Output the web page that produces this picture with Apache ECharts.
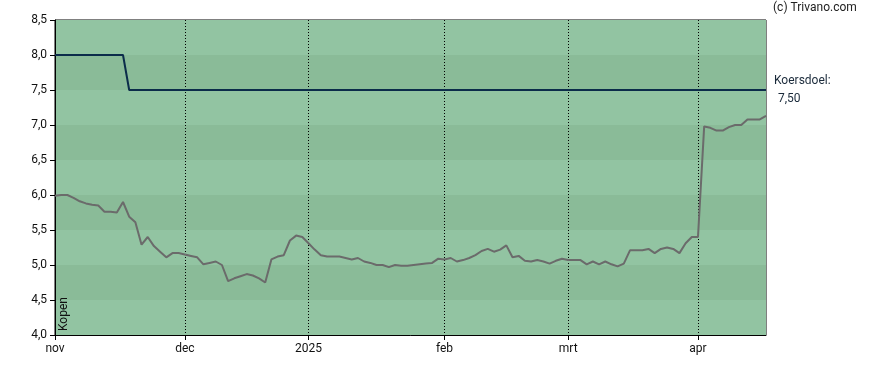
<!DOCTYPE html>
<html>
<head>
<meta charset="utf-8">
<script src="https://cdn.jsdelivr.net/npm/echarts@6/dist/echarts.min.js"></script>
<style>
html,body{margin:0;padding:0;background:#fff;}
#c{width:888px;height:370px;}
</style>
</head>
<body>
<div id="c"></div>
<script>
// Trading days (categories)
const dates = [
 "2024-11-01","2024-11-04","2024-11-05","2024-11-06","2024-11-07","2024-11-08","2024-11-11","2024-11-12","2024-11-13","2024-11-14","2024-11-15","2024-11-18","2024-11-19","2024-11-20","2024-11-21","2024-11-22","2024-11-25","2024-11-26","2024-11-27","2024-11-28","2024-11-29",
 "2024-12-02","2024-12-03","2024-12-04","2024-12-05","2024-12-06","2024-12-09","2024-12-10","2024-12-11","2024-12-12","2024-12-13","2024-12-16","2024-12-17","2024-12-18","2024-12-19","2024-12-20","2024-12-23","2024-12-24","2024-12-27","2024-12-30","2024-12-31",
 "2025-01-02","2025-01-03","2025-01-06","2025-01-07","2025-01-08","2025-01-09","2025-01-10","2025-01-13","2025-01-14","2025-01-15","2025-01-16","2025-01-17","2025-01-20","2025-01-21","2025-01-22","2025-01-23","2025-01-24","2025-01-27","2025-01-28","2025-01-29","2025-01-30","2025-01-31",
 "2025-02-03","2025-02-04","2025-02-05","2025-02-06","2025-02-07","2025-02-10","2025-02-11","2025-02-12","2025-02-13","2025-02-14","2025-02-17","2025-02-18","2025-02-19","2025-02-20","2025-02-21","2025-02-24","2025-02-25","2025-02-26","2025-02-27","2025-02-28",
 "2025-03-03","2025-03-04","2025-03-05","2025-03-06","2025-03-07","2025-03-10","2025-03-11","2025-03-12","2025-03-13","2025-03-14","2025-03-17","2025-03-18","2025-03-19","2025-03-20","2025-03-21","2025-03-24","2025-03-25","2025-03-26","2025-03-27","2025-03-28","2025-03-31",
 "2025-04-01","2025-04-02","2025-04-03","2025-04-04","2025-04-07","2025-04-08","2025-04-09","2025-04-10","2025-04-11","2025-04-14","2025-04-15","2025-04-16"
];

// Share price
const price = [
 5.99,6.00,6.00,5.96,5.91,5.88,5.86,5.85,5.76,5.76,5.75,5.90,5.69,5.61,5.29,5.40,5.27,5.19,5.11,5.17,5.17,
 5.15,5.13,5.11,5.01,5.03,5.05,5.00,4.77,4.81,4.84,4.87,4.85,4.81,4.75,5.08,5.12,5.14,5.35,5.42,5.40,
 5.31,5.22,5.14,5.12,5.12,5.12,5.10,5.08,5.10,5.05,5.03,5.00,5.00,4.97,5.00,4.99,4.99,5.00,5.01,5.02,5.03,5.09,
 5.08,5.10,5.05,5.07,5.10,5.14,5.20,5.23,5.19,5.22,5.28,5.11,5.13,5.06,5.05,5.07,5.05,5.02,5.06,5.09,
 5.07,5.07,5.07,5.01,5.05,5.01,5.05,5.01,4.98,5.02,5.21,5.21,5.21,5.23,5.17,5.23,5.25,5.23,5.17,5.31,5.40,
 5.40,6.98,6.96,6.92,6.92,6.97,7.00,7.00,7.08,7.08,7.08,7.13
];

// Price target (koersdoel)
const target = [
 8.0,8.0,8.0,8.0,8.0,8.0,8.0,8.0,8.0,8.0,8.0,8.0,7.5,7.5,7.5,7.5,7.5,7.5,7.5,7.5,7.5,
 7.5,7.5,7.5,7.5,7.5,7.5,7.5,7.5,7.5,7.5,7.5,7.5,7.5,7.5,7.5,7.5,7.5,7.5,7.5,7.5,
 7.5,7.5,7.5,7.5,7.5,7.5,7.5,7.5,7.5,7.5,7.5,7.5,7.5,7.5,7.5,7.5,7.5,7.5,7.5,7.5,7.5,7.5,
 7.5,7.5,7.5,7.5,7.5,7.5,7.5,7.5,7.5,7.5,7.5,7.5,7.5,7.5,7.5,7.5,7.5,7.5,7.5,7.5,
 7.5,7.5,7.5,7.5,7.5,7.5,7.5,7.5,7.5,7.5,7.5,7.5,7.5,7.5,7.5,7.5,7.5,7.5,7.5,7.5,7.5,
 7.5,7.5,7.5,7.5,7.5,7.5,7.5,7.5,7.5,7.5,7.5,7.5
];

// Month tick labels
const tickDates = ["2024-11-01","2024-12-02","2025-01-02","2025-02-03","2025-03-03","2025-04-01"];
const tickLabels = ["nov","dec","2025","feb","mrt","apr"];

const targetLabel = "Koersdoel:";
const targetValueText = "7,50";

const isTick = (idx, val) => tickDates.indexOf(dates[idx]) >= 0;

const chart = echarts.init(document.getElementById('c'), null, {renderer:'canvas'});
const font = 'Roboto, "Liberation Sans", Arial, sans-serif';
chart.setOption({
  animation:false,
  backgroundColor:'#ffffff',
  textStyle:{fontFamily:font},
  grid:{left:55,right:122,top:20,bottom:35,show:true,borderColor:'#000',borderWidth:1,backgroundColor:'transparent'},
  xAxis:{
    type:'category',
    data:dates,
    boundaryGap:false,
    axisLine:{show:true,lineStyle:{color:'#000',width:1}},
    axisTick:{show:true,interval:isTick,length:5,inside:false,lineStyle:{color:'#000'}},
    axisLabel:{interval:isTick,color:'#111',fontSize:12,fontFamily:font,margin:8,
      formatter:(v)=>{const k=tickDates.indexOf(v);return k>=0?tickLabels[k]:'';}},
    splitLine:{show:true,interval:isTick,lineStyle:{color:'#000',type:[1,2],width:1}}
  },
  yAxis:{
    type:'value',
    min:4.0,max:8.5,interval:0.5,
    axisLine:{show:true,lineStyle:{color:'#000',width:1}},
    axisTick:{show:true,length:5,lineStyle:{color:'#000'}},
    axisLabel:{color:'#111',fontSize:12,fontFamily:font,margin:8,
      formatter:(v)=>v.toFixed(1).replace('.',',')},
    splitLine:{show:false},
    splitArea:{show:true,areaStyle:{color:['#92c4a2','#8abb98']}}
  },
  graphic:[
    {type:'text',z:100,left:773,top:2,style:{text:'(c) Trivano.com',fill:'#222',font:'12px '+font}},
    {type:'text',z:100,left:774,top:75,style:{text:targetLabel,fill:'#1a2a3a',font:'12px '+font}},
    {type:'text',z:100,left:778,top:93,style:{text:targetValueText,fill:'#1a2a3a',font:'12px '+font}},
    {type:'group',z:100,x:58,y:331,rotation:Math.PI/2,children:[
      {type:'text',z:100,style:{x:0,y:0,text:'Kopen',fill:'#111',font:'12px '+font,align:'left',verticalAlign:'top'}}
    ]}
  ],
  series:[
    {type:'line',data:price,symbol:'none',lineStyle:{color:'#6b6b6b',width:2},z:3},
    {type:'line',data:target,symbol:'none',lineStyle:{color:'#0b2c4a',width:2},z:4}
  ]
});
</script>
</body>
</html>
